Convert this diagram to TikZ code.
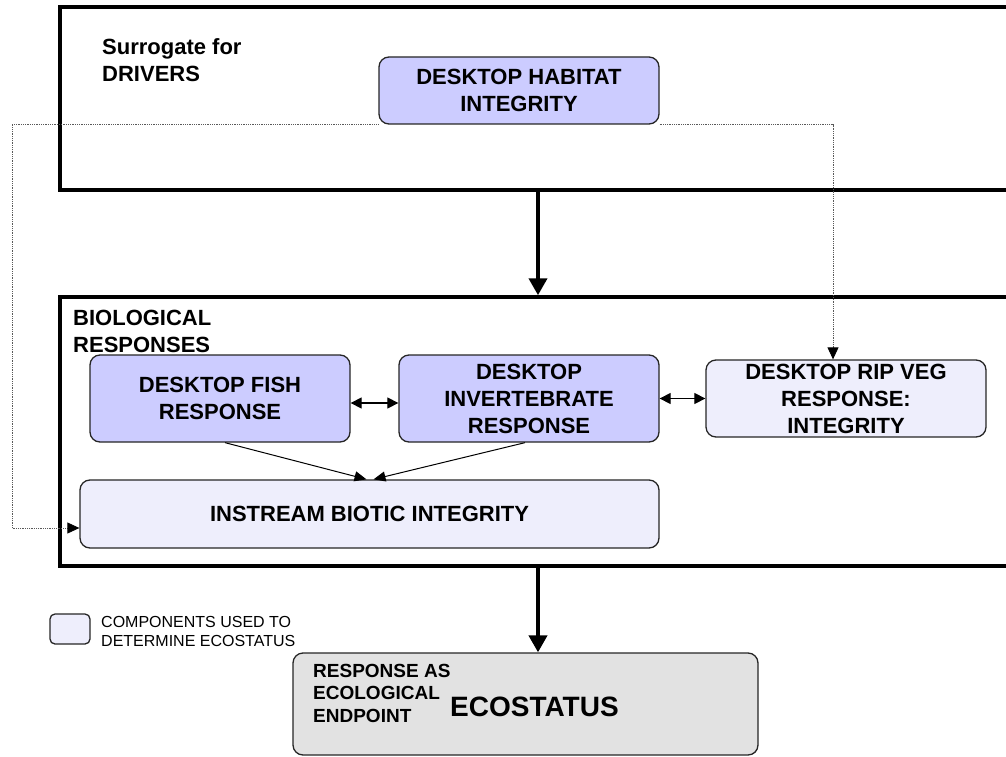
\documentclass[tikz,border=0pt]{standalone}
\usepackage{fontspec}
\setmainfont{Liberation Sans}
\usetikzlibrary{arrows.meta}
\definecolor{darkfill}{RGB}{204,204,255}
\definecolor{lightfill}{RGB}{238,238,252}
\definecolor{grayfill}{RGB}{226,226,226}
\tikzset{
 container/.style={draw=black, line width=3.5pt, rectangle, inner sep=0pt},
 darkbox/.style={draw=black!85, line width=1.3pt, rounded corners=10pt, fill=darkfill, align=center, font=\fontsize{22}{27}\selectfont\bfseries, inner sep=0pt},
 lightbox/.style={darkbox, fill=lightfill},
 ecobox/.style={darkbox, fill=grayfill},
 bigarrow/.style={line width=4pt, -{Triangle[length=17pt,width=18pt]}},
 smallarrow/.style={line width=1pt, -{Triangle[length=12pt,width=10pt]}},
 twoway/.style={line width=1.2pt, {Triangle[length=11pt,width=11pt]}-{Triangle[length=11pt,width=11pt]}},
 dotline/.style={line width=0.8pt, black!65, dash pattern=on 0.8pt off 1pt},
 dotarrow/.style={dotline, -{Triangle[length=12pt,width=11pt,color=black,fill=black]}},
 lbl/.style={font=\fontsize{22}{27}\selectfont\bfseries, align=left, inner sep=0pt, anchor=base west},
}
\begin{document}
\begin{tikzpicture}[x=1pt,y=-1pt]
\useasboundingbox (0,0) rectangle (1006,757);
\clip (0,0) rectangle (1006,757);
% containers
\node[container, minimum width=952pt, minimum height=183pt] (top) at (536,98.5) {};
\node[container, minimum width=952pt, minimum height=269pt] (bio) at (536,431.5) {};
\node[lbl] (surr) at (102,82) {Surrogate for\\DRIVERS};
\node[lbl] (biolbl) at (73,352) {BIOLOGICAL\\RESPONSES};
% boxes
\node[darkbox, minimum width=280pt, minimum height=67pt] (hab) at (519,90.5) {DESKTOP HABITAT\\INTEGRITY};
\node[darkbox, minimum width=260pt, minimum height=87pt] (fish) at (220,398.5) {DESKTOP FISH\\RESPONSE};
\node[darkbox, minimum width=260pt, minimum height=87pt] (inv) at (529,398.5) {DESKTOP\\INVERTEBRATE\\RESPONSE};
\node[lightbox, minimum width=280pt, minimum height=77pt] (rip) at (846,398.5) {DESKTOP RIP VEG\\RESPONSE:\\INTEGRITY};
\node[lightbox, minimum width=579pt, minimum height=68pt] (ins) at (369.5,514) {INSTREAM BIOTIC INTEGRITY};
\node[ecobox, minimum width=465pt, minimum height=102pt] (eco) at (525.5,704) {};
\node[lbl, font=\fontsize{19}{22.5}\selectfont\bfseries] (resp) at (313,722) {RESPONSE AS\\ECOLOGICAL\\ENDPOINT};
\node[lbl, font=\fontsize{28}{32}\selectfont\bfseries] (ecot) at (450,716) {ECOSTATUS};
% legend
\node[lightbox, minimum width=40pt, minimum height=30pt, rounded corners=5pt] (leg) at (70,629) {};
\node[lbl, font=\fontsize{16}{19}\selectfont] (legt) at (101,646) {COMPONENTS USED TO\\DETERMINE ECOSTATUS};
% connectors
\coordinate (ax) at (538,0);
\draw[bigarrow] (top.south -| ax) -- (bio.north -| ax);
\draw[bigarrow] (bio.south -| ax) -- (eco.north -| ax);
\draw[twoway] ([yshift=-4.5pt]fish.east) -- ([yshift=-4.5pt]inv.west);
\draw[twoway] (inv.east) -- (rip.west);
\draw[smallarrow] ([xshift=5pt]fish.south) -- ([xshift=-3pt]ins.north);
\draw[smallarrow] ([xshift=-4pt]inv.south) -- ([xshift=4pt]ins.north);
\coordinate (dl) at (12,0);
\draw[dotarrow] (hab.south west) -- (hab.south west -| dl) |- ([yshift=-14pt]ins.west);
\draw[dotarrow] (hab.south east) -| ([xshift=-13pt]rip.north);
\end{tikzpicture}
\end{document}
